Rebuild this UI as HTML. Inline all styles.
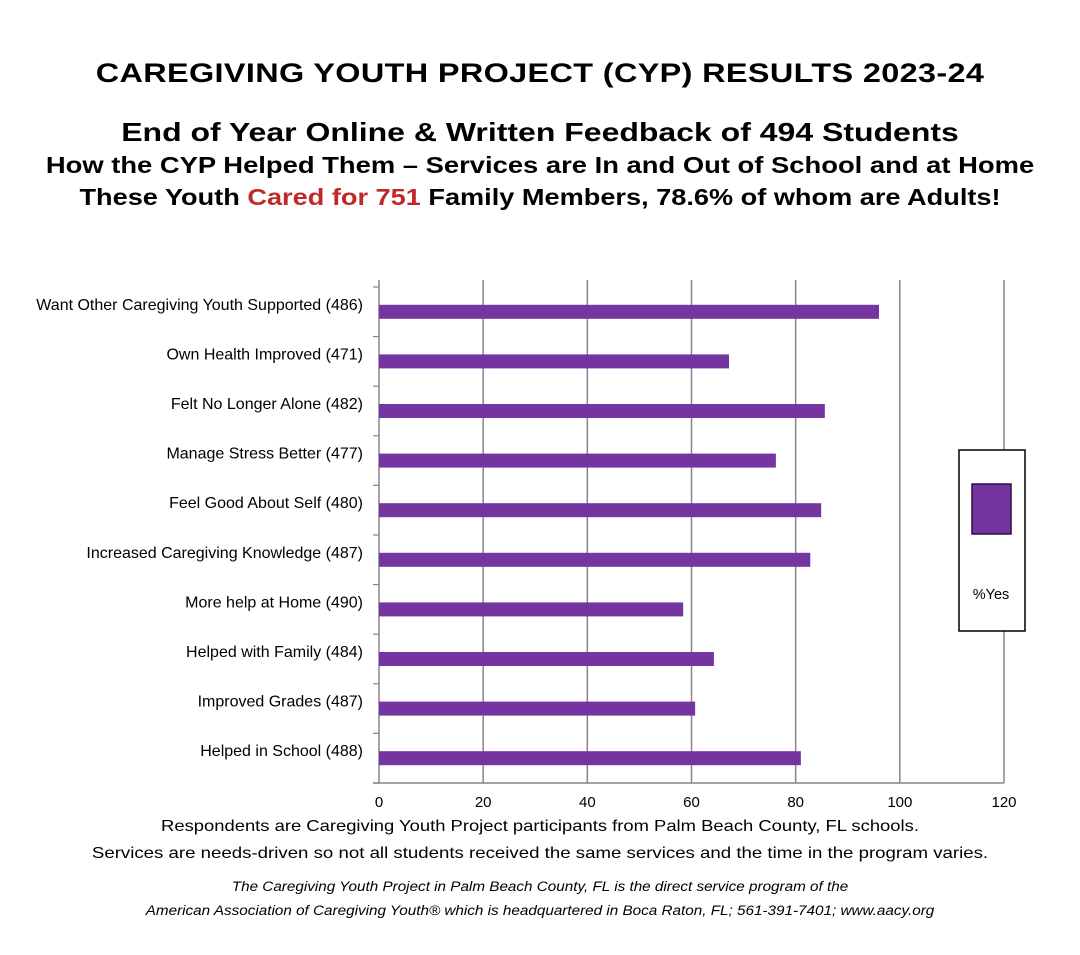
<!DOCTYPE html>
<html><head><meta charset="utf-8">
<style>
body{margin:0;background:#fff;width:1080px;height:955px;overflow:hidden;font-family:"Liberation Sans",sans-serif;}
.t{position:absolute;left:0;width:1080px;text-align:center;font-weight:bold;color:#000;white-space:nowrap;transform-origin:540px 50%}
</style></head><body>
<div class="t" style="top:58px;font-size:27px;letter-spacing:0.3px;transform:scaleX(1.2)">CAREGIVING YOUTH PROJECT (CYP) RESULTS 2023-24</div>
<div class="t" style="top:117px;font-size:26px;transform:scaleX(1.23)">End of Year Online &amp; Written Feedback of 494 Students</div>
<div class="t" style="top:152px;font-size:23.5px;transform:scaleX(1.165)">How the CYP Helped Them – Services are In and Out of School and at Home</div>
<div class="t" style="top:184px;font-size:23.5px;transform:scaleX(1.155)">These Youth <span style="color:#c0282a">Cared for 751</span> Family Members, 78.6% of whom are Adults!</div>
<svg id="chart" width="1080" height="955" style="position:absolute;left:0;top:0" xmlns="http://www.w3.org/2000/svg"></svg>
<div class="t" style="top:818px;font-size:16px;font-weight:normal;transform:scaleX(1.15)">Respondents are Caregiving Youth Project participants from Palm Beach County, FL schools.</div>
<div class="t" style="top:845px;font-size:16px;font-weight:normal;transform:scaleX(1.165)">Services are needs-driven so not all students received the same services and the time in the program varies.</div>
<div class="t" style="top:879px;font-size:13.5px;font-weight:normal;font-style:italic;transform:scaleX(1.13)">The Caregiving Youth Project in Palm Beach County, FL is the direct service program of the</div>
<div class="t" style="top:903px;font-size:13.5px;font-weight:normal;font-style:italic;transform:scaleX(1.13)">American Association of Caregiving Youth® which is headquartered in Boca Raton, FL; 561-391-7401; www.aacy.org</div>
<script>
const categories=["Want Other Caregiving Youth Supported (486)","Own Health Improved (471)","Felt No Longer Alone (482)","Manage Stress Better (477)","Feel Good About Self (480)","Increased Caregiving Knowledge (487)","More help at Home (490)","Helped with Family (484)","Improved Grades (487)","Helped in School (488)"];
const values=[96,67.2,85.6,76.2,84.9,82.8,58.4,64.3,60.7,81.0];
const ticks=[0,20,40,60,80,100,120];
const ns="http://www.w3.org/2000/svg";
const svg=document.getElementById('chart');
const X0=379,X1=1004,XMAX=120,TOP=287,BAND=49.6;
const x=v=>X0+(v/XMAX)*(X1-X0);
const yc=i=>TOP+BAND*(i+0.5);
const BOT=TOP+BAND*categories.length;
function mk(t,a){const e=document.createElementNS(ns,t);for(const k in a)e.setAttribute(k,a[k]);svg.appendChild(e);return e;}
ticks.forEach(t=>{
  if(t>0){const g=mk('line',{x1:x(t),x2:x(t),y1:280,y2:BOT,stroke:'#8a8290','stroke-width':1.5});
  
  }
  const l=mk('text',{x:x(t),y:BOT+24,'text-anchor':'middle','font-size':15,'font-family':'Liberation Sans, sans-serif',fill:'#000'});
  l.textContent=t;
  
  
});
const ya=mk('line',{x1:X0,x2:X0,y1:280,y2:BOT,stroke:'#8a8290','stroke-width':1.5});


const xa=mk('line',{x1:X0-6,x2:X1,y1:BOT,y2:BOT,stroke:'#8a8290','stroke-width':1.5});


for(let i=0;i<=categories.length;i++){mk('line',{x1:X0-6,x2:X0,y1:TOP+BAND*i,y2:TOP+BAND*i,stroke:'#8a8290','stroke-width':1.2});}
categories.forEach((c,i)=>{
  const b=mk('rect',{x:X0,y:yc(i)-7,width:x(values[i])-X0,height:14,fill:'#7435a0'});
  
  
  const l=mk('text',{x:363,y:yc(i)-2,'text-anchor':'end','font-size':16,'font-family':'Liberation Sans, sans-serif',fill:'#000'});
  l.textContent=c;
  
  
});
const lg=mk('rect',{x:959,y:450,width:66,height:181,fill:'#fff',stroke:'#000','stroke-width':1.5});


const sw=mk('rect',{x:972,y:484,width:39,height:50,fill:'#7435a0',stroke:'#2a1040','stroke-width':1.5});


const lt=mk('text',{x:991,y:599,'text-anchor':'middle','font-size':14.5,'font-family':'Liberation Sans, sans-serif',fill:'#000'});
lt.textContent='%Yes';


</script>
</body></html>
